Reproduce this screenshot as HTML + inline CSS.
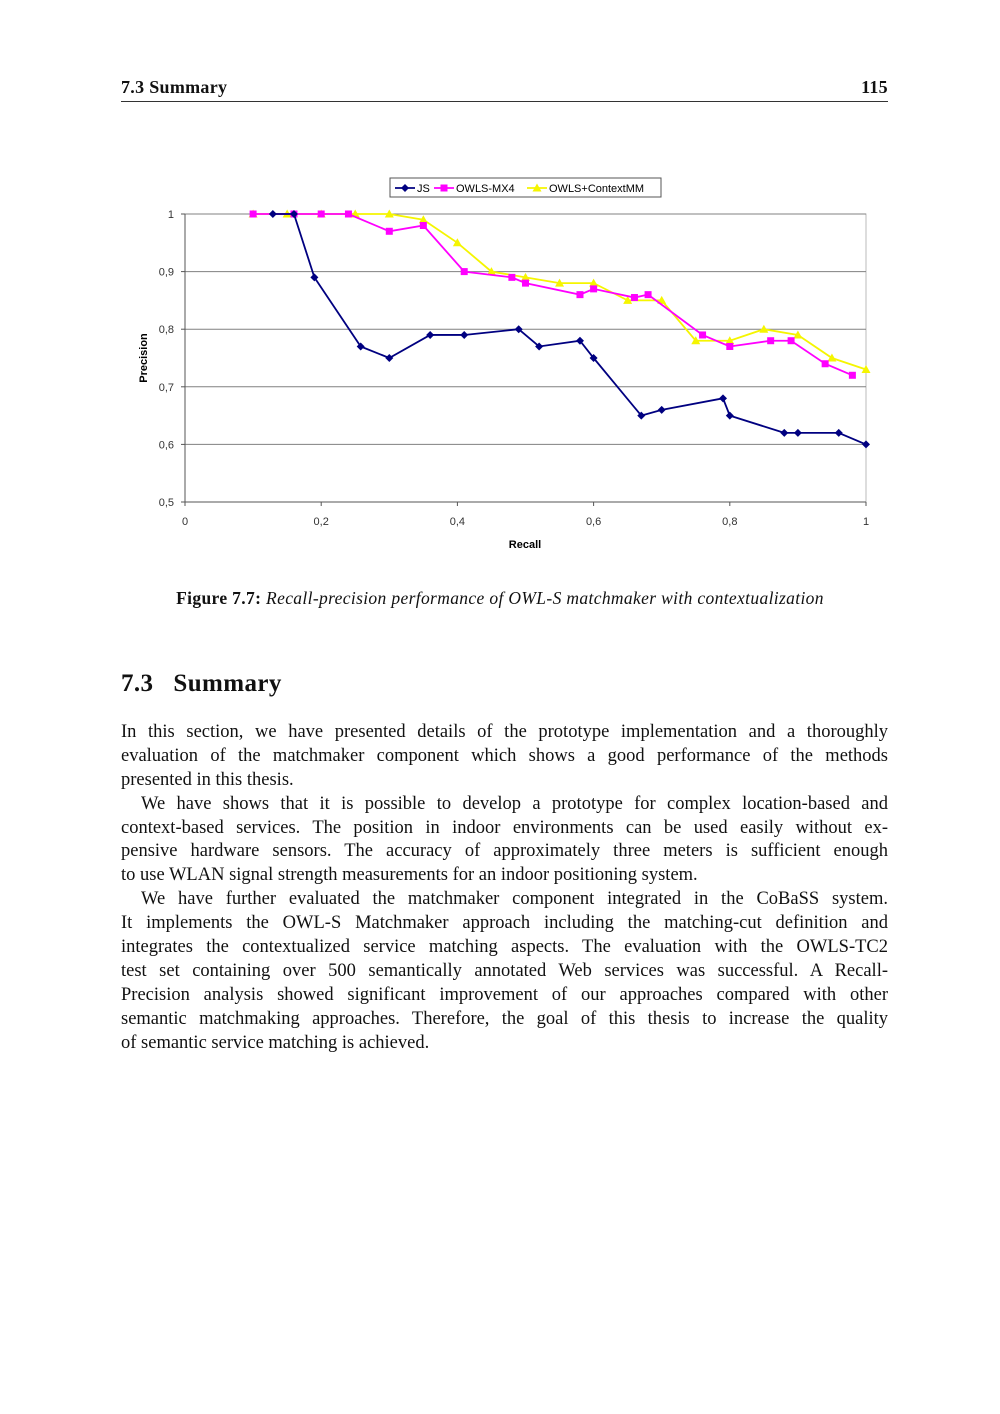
<!DOCTYPE html>
<html><head><meta charset="utf-8"><style>
body{margin:0;background:#fff;}
#page{position:relative;width:1000px;height:1414px;background:#fff;font-family:"Liberation Serif",serif;color:#111;}
.hdr{position:absolute;top:77px;font-weight:bold;font-size:18px;letter-spacing:0.3px;}
.rule{position:absolute;left:121px;width:767px;top:101px;border-top:1px solid #333;}
.cap{position:absolute;left:0;width:1000px;top:588px;text-align:center;font-size:17.5px;letter-spacing:0.35px;}
h2{position:absolute;left:121px;top:670px;margin:0;font-size:25px;font-weight:bold;letter-spacing:0.4px;}
.body{position:absolute;left:121px;width:767px;top:721px;font-size:18.5px;line-height:23.9px;}
.l{text-align:justify;text-align-last:justify;white-space:nowrap;height:23.9px;}
.e{text-align:left;text-align-last:left;}
.i{padding-left:20px;}
</style></head><body>
<div id="page">
<div class="hdr" style="left:121px">7.3 Summary</div>
<div class="hdr" style="right:112px">115</div>
<div class="rule"></div>
<svg id="chart" width="1000" height="580" style="position:absolute;left:0;top:0" font-family="Liberation Sans, sans-serif"></svg>
<div class="cap"><b>Figure 7.7:</b> <i>Recall-precision performance of OWL-S matchmaker with contextualization</i></div>
<h2>7.3&nbsp;&nbsp;&nbsp;Summary</h2>
<div class="body">
<div class="l" style="white-space:normal">In this section, we have presented details of the prototype implementation and a thoroughly</div>
<div class="l">evaluation of the matchmaker component which shows a good performance of the methods</div>
<div class="l e">presented in this thesis.</div>
<div class="l i">We have shows that it is possible to develop a prototype for complex location-based and</div>
<div class="l">context-based services. The position in indoor environments can be used easily without ex-</div>
<div class="l">pensive hardware sensors. The accuracy of approximately three meters is sufficient enough</div>
<div class="l e">to use WLAN signal strength measurements for an indoor positioning system.</div>
<div class="l i">We have further evaluated the matchmaker component integrated in the CoBaSS system.</div>
<div class="l">It implements the OWL-S Matchmaker approach including the matching-cut definition and</div>
<div class="l">integrates the contextualized service matching aspects. The evaluation with the OWLS-TC2</div>
<div class="l">test set containing over 500 semantically annotated Web services was successful. A Recall-</div>
<div class="l">Precision analysis showed significant improvement of our approaches compared with other</div>
<div class="l">semantic matchmaking approaches. Therefore, the goal of this thesis to increase the quality</div>
<div class="l e">of semantic service matching is achieved.</div>
</div>
</div>
<script>
const jsX=[0.129,0.16,0.19,0.258,0.3,0.36,0.41,0.49,0.52,0.58,0.6,0.67,0.7,0.79,0.8,0.88,0.9,0.96,1.0];
const jsY=[1,1,0.89,0.77,0.75,0.79,0.79,0.8,0.77,0.78,0.75,0.65,0.66,0.68,0.65,0.62,0.62,0.62,0.6];
const mxX=[0.1,0.16,0.2,0.24,0.3,0.35,0.41,0.48,0.5,0.58,0.6,0.66,0.68,0.76,0.8,0.86,0.89,0.94,0.98];
const mxY=[1,1,1,1,0.97,0.98,0.9,0.89,0.88,0.86,0.87,0.855,0.86,0.79,0.77,0.78,0.78,0.74,0.72];
const cmX=[0.1,0.15,0.2,0.25,0.3,0.35,0.4,0.45,0.5,0.55,0.6,0.65,0.7,0.75,0.8,0.85,0.9,0.95,1.0];
const cmY=[1,1,1,1,1,0.99,0.95,0.9,0.89,0.88,0.88,0.85,0.85,0.78,0.78,0.8,0.79,0.75,0.73];
const xTicks=["0","0,2","0,4","0,6","0,8","1"];
const yTicks=["0,5","0,6","0,7","0,8","0,9","1"];
const svg=document.getElementById('chart');
const NS='http://www.w3.org/2000/svg';
const X0=185,X1=866,Y0=502,Y1=214;
const sx=v=>X0+v*(X1-X0), sy=v=>Y0-(v-0.5)/0.5*(Y0-Y1);
function mk(t,a,p){const e=document.createElementNS(NS,t);for(const k in a)e.setAttribute(k,a[k]);(p||svg).appendChild(e);return e;}
const r=mk('rect',{x:X0,y:Y1,width:X1-X0,height:Y0-Y1,fill:'#fff',stroke:'#bbb'});


yTicks.forEach((t,i)=>{const v=0.5+i*0.1,y=sy(v);
 if(i>0){const g=mk('line',{x1:X0,x2:X1,y1:y,y2:y,stroke:'#808080','stroke-width':1});}
 mk('line',{x1:X0-4,x2:X0,y1:y,y2:y,stroke:'#555'});
 const tx=mk('text',{x:174,y:y+4,'font-size':11,'text-anchor':'end',fill:'#333'});tx.textContent=t;
 });
xTicks.forEach((t,i)=>{const x=sx(i*0.2);
 mk('line',{x1:x,x2:x,y1:Y0,y2:Y0+4,stroke:'#555'});
 const tx=mk('text',{x:x,y:525,'font-size':11,'text-anchor':'middle',fill:'#333'});tx.textContent=t;
 });
mk('line',{x1:X0,x2:X0,y1:Y1,y2:Y0,stroke:'#555'});
mk('line',{x1:X0,x2:X1,y1:Y0,y2:Y0,stroke:'#555'});
const xt=mk('text',{x:525,y:548,'font-size':11,'font-weight':'bold','text-anchor':'middle'});xt.textContent='Recall';

const yt=mk('text',{x:147,y:358,'font-size':11,'font-weight':'bold','text-anchor':'middle',transform:'rotate(-90 147 358)'});yt.textContent='Precision';

function marker(type,x,y,c,g){
 if(type==='d')return mk('polygon',{points:`${x},${y-4} ${x+4},${y} ${x},${y+4} ${x-4},${y}`,fill:c},g);
 if(type==='s')return mk('rect',{x:x-3.5,y:y-3.5,width:7,height:7,fill:c},g);
 return mk('polygon',{points:`${x},${y-4.5} ${x+4.5},${y+3.5} ${x-4.5},${y+3.5}`,fill:c},g);}
function series(xs,ys,c,type,name){const g=mk('g',{});
 mk('polyline',{points:xs.map((v,i)=>sx(v)+','+sy(ys[i])).join(' '),fill:'none',stroke:c,'stroke-width':1.8},g);
 xs.forEach((v,i)=>marker(type,sx(v),sy(ys[i]),c,g));}
series(cmX,cmY,'#f5f500','t','series-owls-contextmm');
series(mxX,mxY,'#ff00ff','s','series-owls-mx4');
series(jsX,jsY,'#000080','d','series-js');
const lg=mk('g',{});
mk('rect',{x:390,y:178,width:271,height:19,fill:'#fff',stroke:'#555'},lg);
[[395,'JS','#000080','d'],[434,'OWLS-MX4','#ff00ff','s'],[527,'OWLS+ContextMM','#f5f500','t']].forEach(([x,t,c,ty])=>{
 mk('line',{x1:x,x2:x+20,y1:188,y2:188,stroke:c,'stroke-width':1.8},lg);marker(ty,x+10,188,c,lg);
 const tx=mk('text',{x:x+22,y:192,'font-size':11},lg);tx.textContent=t;
 });
</script>
</body></html>
